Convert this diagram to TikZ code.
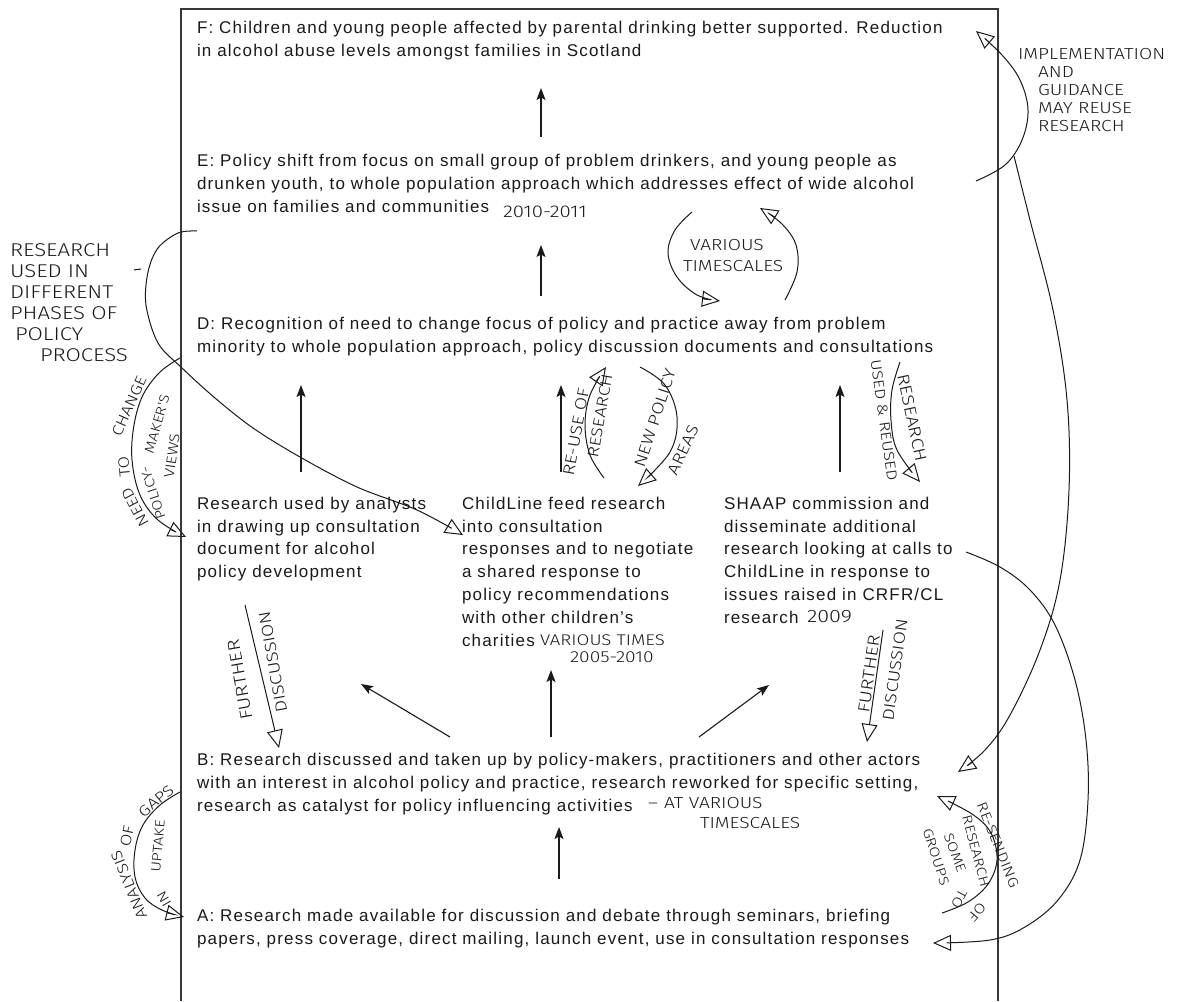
\documentclass[tikz,border=0pt]{standalone}
\usepackage{fontspec}
\setmainfont{Liberation Sans}[LetterSpace=7]
\newfontfamily\hand{Fira Sans Light}[FakeStretch=1.2]
\usetikzlibrary{arrows.meta}
\definecolor{ink}{HTML}{1A1A1A}
\definecolor{rule}{HTML}{383838}
\newcommand{\hw}[1]{\hand\fontsize{#1}{#1}\selectfont}

\begin{document}
\begin{tikzpicture}[x=1pt,y=-1pt,
  every node/.style={inner sep=0pt,outer sep=0pt},
  block/.style={anchor=north west,align=left,text=ink,font=\fontsize{17}{23}\selectfont},
  colblock/.style={block,font=\fontsize{17}{22.8}\selectfont},
  flow/.style={draw=ink,line width=1.1pt,-{Stealth[length=12pt,width=9pt,inset=2.5pt]}},
  pen/.style={draw=ink,line width=1pt},
  penarrow/.style={pen,-{Triangle[open,length=18pt,width=16pt,line width=1pt]}},
  note/.style={text=ink,anchor=west},
  tilted/.style={text=ink,anchor=center,rotate=#1},
]
\useasboundingbox (0,0) rectangle (1180,1001);
\fill[white] (0,0) rectangle (1180,1001);

% page frame
\draw[line width=1.1pt,draw=rule] (181,1001) -- (181,9) -- (998,9) -- (998,1001);

% ---- stages of the policy process ----
\node[block] (F) at (197,17.4) {\strut F: Children and young people affected by parental drinking better supported. Reduction\\in alcohol abuse levels amongst families in Scotland};
\node[block] (E) at (197,150.4) {\strut E: Policy shift from focus on small group of problem drinkers, and young people as\\drunken youth, to whole population approach which addresses effect of wide alcohol\\issue on families and communities};
\node[block] (D) at (197,313.4) {\strut D: Recognition of need to change focus of policy and practice away from problem\\minority to whole population approach, policy discussion documents and consultations};
\node[colblock] (C1) at (197,493.4) {\strut Research used by analysts\\in drawing up consultation\\document for alcohol\\policy development};
\node[colblock] (C2) at (462,493.4) {\strut ChildLine feed research\\into consultation\\responses and to negotiate\\a shared response to\\policy recommendations\\with other children's\\charities};
\node[colblock] (C3) at (724,493.4) {\strut SHAAP commission and\\disseminate additional\\research looking at calls to\\ChildLine in response to\\issues raised in CRFR/CL\\research};
\node[block] (B) at (197,749.4) {\strut B: Research discussed and taken up by policy-makers, practitioners and other actors\\with an interest in alcohol policy and practice, research reworked for specific setting,\\research as catalyst for policy influencing activities};
\node[block] (A) at (197,905.4) {\strut A: Research made available for discussion and debate through seminars, briefing\\papers, press coverage, direct mailing, launch event, use in consultation responses};

% ---- printed flow arrows ----
\coordinate (eF1) at (541,137); \coordinate (eF2) at (541,88);
\coordinate (dE1) at (541,296); \coordinate (dE2) at (541,245);
\coordinate (c1a) at (301,472); \coordinate (c1b) at (301,385);
\coordinate (c2a) at (561,472); \coordinate (c2b) at (561,385);
\coordinate (c3a) at (840,472); \coordinate (c3b) at (840,385);
\coordinate (b1a) at (450,737); \coordinate (b1b) at (361,684);
\coordinate (b2a) at (551,737); \coordinate (b2b) at (551,670);
\coordinate (b3a) at (699,737); \coordinate (b3b) at (769,685);
\coordinate (aBa) at (559,879); \coordinate (aBb) at (559,827);
\foreach \s/\t in {eF1/eF2,dE1/dE2,c1a/c1b,c2a/c2b,c3a/c3b,b1a/b1b,b2a/b2b,b3a/b3b,aBa/aBb}
  \draw[flow] (\s) -- (\t);

% ---- pen annotations: loops and returns ----
\draw[penarrow] plot[smooth,tension=0.55] coordinates {(197,231) (178,233) (158,248) (148,272) (146,305) (158,343) (182,368) (215,398) (253,428) (300,457) (357,487) (417,510) (463,535)};
\draw[pen] (134,270) -- (141,269);
\draw[penarrow] plot[smooth,tension=0.6] coordinates {(180,358) (160,372) (143,395) (134,425) (132,460) (140,495) (158,520) (186,537)};
\draw[penarrow] plot[smooth,tension=0.6] coordinates {(180,792) (160,805) (143,825) (135,850) (135,877) (145,898) (162,910) (184,917)};

\coordinate (fdL1) at (245,605); \coordinate (fdL2) at (279,748);
\draw[penarrow] (fdL1) -- (fdL2);
\coordinate (fdR1) at (883,630); \coordinate (fdR2) at (867,742);
\draw[penarrow] (fdR1) -- (fdR2);

\draw[penarrow] plot[smooth,tension=0.6] coordinates {(604,478) (590,455) (585,425) (590,395) (606,367)};
\draw[penarrow] plot[smooth,tension=0.6] coordinates {(640,367) (665,385) (677,417) (670,452) (638,486)};
\draw[penarrow] plot[smooth,tension=0.6] coordinates {(900,362) (892,390) (891,420) (897,450) (920,482)};

\draw[penarrow] plot[smooth,tension=0.6] coordinates {(692,212) (675,230) (668,253) (677,277) (697,295) (720,301)};
\draw[penarrow] plot[smooth,tension=0.6] coordinates {(785,300) (797,272) (796,245) (782,224) (760,208)};

\draw[penarrow] plot[smooth,tension=0.6] coordinates {(976,181) (1005,165) (1022,140) (1028,110) (1020,80) (1002,55) (976,31)};
\draw[penarrow] plot[smooth,tension=0.6] coordinates {(1014,156) (1030,220) (1053,310) (1067,400) (1069,490) (1060,580) (1040,650) (1010,715) (985,750) (958,772)};
\draw[penarrow] plot[smooth,tension=0.6] coordinates {(966,552) (1000,567) (1030,590) (1055,625) (1075,680) (1086,740) (1088,800) (1080,860) (1058,900) (1025,927) (990,940) (933,943)};
\draw[penarrow] plot[smooth,tension=0.6] coordinates {(942,913) (968,902) (988,884) (997,860) (991,833) (972,814) (937,796)};

% ---- pen annotations: words ----
\node[note,font=\hw{17}] (n2010) at (503,212) {2010-2011};
\node[note,font=\hw{15.5}] (nvt) at (540,640) {VARIOUS TIMES};
\node[note,font=\hw{16}] (n0510) at (570,657) {2005-2010};
\node[note,font=\hw{18}] (n2009) at (807,617) {2009};
\node[note,font=\hw{16}] (ndash) at (648,806) {–};
\node[note,font=\hw{16}] (natv) at (664,803) {AT VARIOUS};
\node[note,font=\hw{16}] (nts) at (700,823) {TIMESCALES};
\node[note,font=\hw{16}] (nvar) at (690,245) {VARIOUS};
\node[note,font=\hw{16}] (ntsc) at (683,266) {TIMESCALES};

\node[anchor=north west,align=left,text=ink,font=\hand\fontsize{18.5}{21}\selectfont] (phases) at (10,244)
  {RESEARCH\\USED IN\\DIFFERENT\\PHASES OF\\\hspace*{5pt}POLICY\\\hspace*{30pt}PROCESS};
\node[anchor=north west,align=left,text=ink,font=\hand\fontsize{16}{18}\selectfont] (impl) at (1018,48)
  {IMPLEMENTATION\\\hspace*{20pt}AND\\\hspace*{20pt}GUIDANCE\\\hspace*{20pt}MAY REUSE\\\hspace*{20pt}RESEARCH};

\node[tilted=100,font=\hw{17}] (furL) at (240,680) {FURTHER};
\node[tilted=100,font=\hw{16}] (disL) at (273,662) {DISCUSSION};
\node[tilted=82,font=\hw{16.5}] (furR) at (869,674) {FURTHER};
\node[tilted=82,font=\hw{16}] (disR) at (895,670) {DISCUSSION};
\node[tilted=80,font=\hw{16}] (reuse1) at (576,432) {RE-USE OF};
\node[tilted=80,font=\hw{15.5}] (reuse2) at (600,416) {RESEARCH};
\node[tilted=72,font=\hw{16}] (newp) at (655,418) {NEW POLICY};
\node[tilted=65,font=\hw{16}] (areas) at (683,450) {AREAS};
\node[tilted=-78,font=\hw{16.5}] (rsrch) at (912,418) {RESEARCH};
\node[tilted=-82,font=\hw{14.5}] (usedre) at (884,420) {USED \& REUSED};

% need to change policy-maker's views
\node[tilted=118,font=\hw{15}] (need) at (135,507) {NEED};
\node[tilted=95,font=\hw{15}] (nto) at (124,467) {TO};
\node[tilted=66,font=\hw{15}] (chg) at (129,406) {CHANGE};
\node[tilted=108,font=\hw{13.5}] (polm) at (153,493) {POLICY-};
\node[tilted=74,font=\hw{13.5}] (maker) at (157,424) {MAKER'S};
\node[tilted=82,font=\hw{14}] (views) at (172,456) {VIEWS};

% analysis of gaps in uptake
\node[tilted=112,font=\hw{15}] (anal) at (129,885) {ANALYSIS};
\node[tilted=78,font=\hw{15}] (aof) at (127,836) {OF};
\node[tilted=40,font=\hw{15}] (gaps) at (156,801) {GAPS};
\node[tilted=120,font=\hw{13.5}] (ain) at (164,899) {IN};
\node[tilted=85,font=\hw{13.5}] (upt) at (158,846) {UPTAKE};

% re-sending of research to some groups
\node[tilted=-68,font=\hw{14}] (resend) at (998,845) {RE-SENDING};
\node[tilted=-130,font=\hw{14}] (sof) at (977,912) {OF};
\node[tilted=-75,font=\hw{13.5}] (sres) at (976,851) {RESEARCH};
\node[tilted=-118,font=\hw{13.5}] (sto) at (959,899) {TO};
\node[tilted=-70,font=\hw{13.5}] (some) at (955,853) {SOME};
\node[tilted=-72,font=\hw{13.5}] (groups) at (936,857) {GROUPS};
\end{tikzpicture}
\end{document}
